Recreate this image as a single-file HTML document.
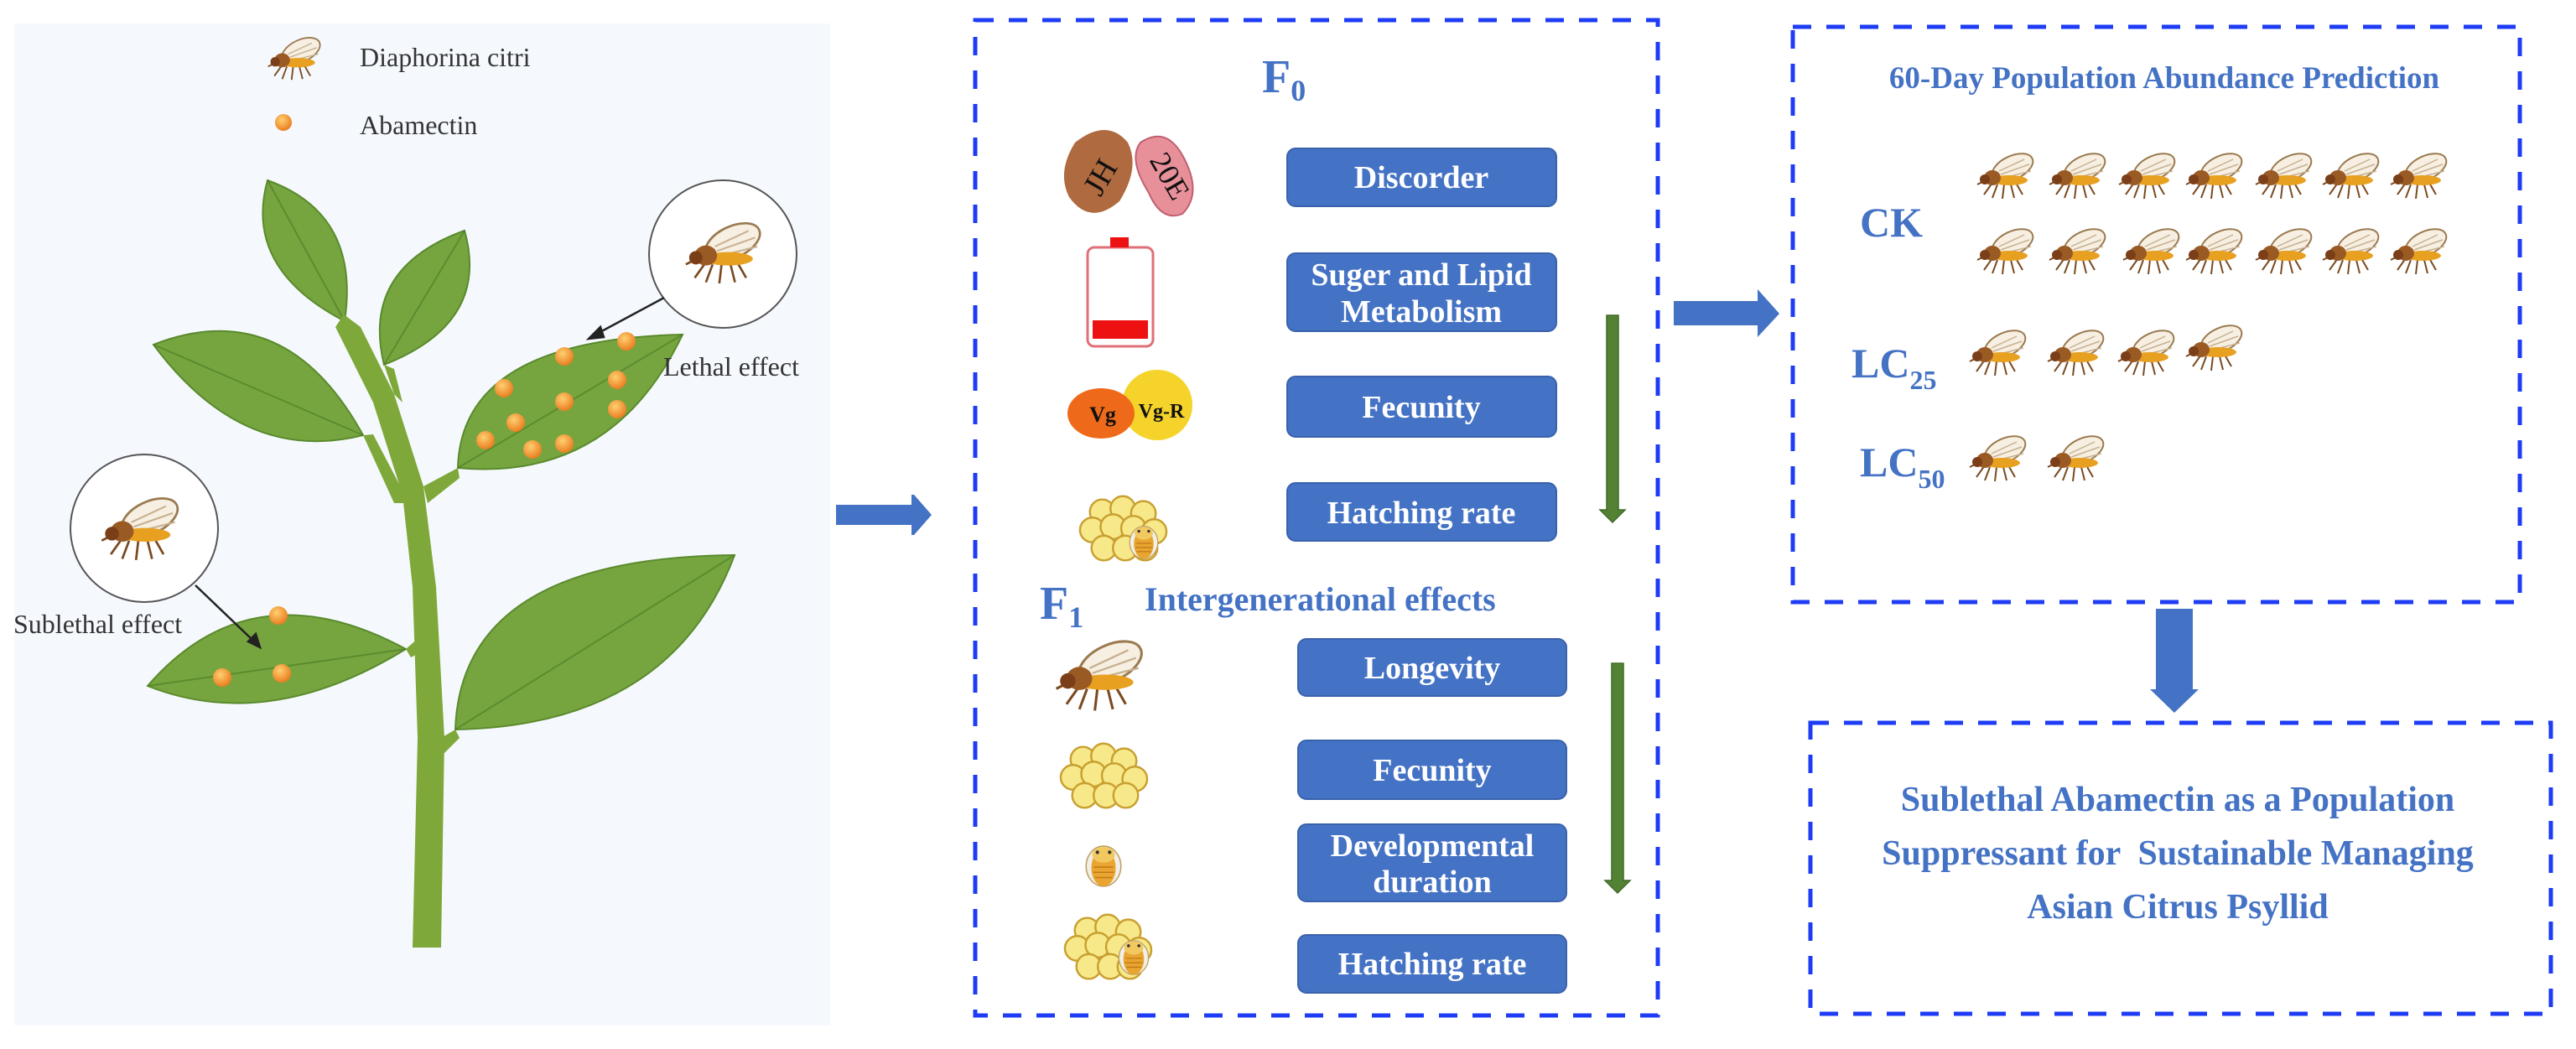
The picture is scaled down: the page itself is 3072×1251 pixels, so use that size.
<!DOCTYPE html>
<html><head><meta charset="utf-8">
<style>
html,body{margin:0;padding:0;background:#fff;}
svg{display:block;}
.bt{font-family:"Liberation Serif",serif;font-weight:bold;fill:#fff;font-size:38px;text-anchor:middle;}
.bl{font-family:"Liberation Serif",serif;font-weight:bold;fill:#4472c4;}
.lg{font-family:"Liberation Serif",serif;fill:#333;font-size:32px;}
</style></head>
<body>
<svg width="3072" height="1251" viewBox="0 0 3072 1251" xmlns="http://www.w3.org/2000/svg">
<defs>
  <symbol id="psy" viewBox="0 0 75 60">
    <g stroke="#7a4a20" stroke-width="2" fill="none">
      <path d="M22 38 L12 52 M28 40 L22 56 M36 40 L34 57 M44 40 L48 56 M50 38 L58 52 M16 34 L4 40"/>
    </g>
    <ellipse cx="46" cy="20" rx="26" ry="14" transform="rotate(-25 46 20)" fill="#f6efe2" stroke="#9a7a50" stroke-width="2"/>
    <path d="M30 24 L60 10 M32 28 L66 16 M36 32 L68 24" stroke="#c8b090" stroke-width="1.5"/>
    <ellipse cx="42" cy="35" rx="22" ry="6" fill="#e8a020"/>
    <ellipse cx="22" cy="32" rx="10" ry="9" fill="#9a5a24"/>
    <circle cx="13" cy="34" r="6" fill="#7a3e18"/>
  </symbol>
  <symbol id="eggs" viewBox="0 0 110 80">
    <g fill="#f7e98a" stroke="#c9a030" stroke-width="2.5">
      <circle cx="30" cy="18" r="15"/><circle cx="55" cy="14" r="15"/><circle cx="80" cy="20" r="15"/>
      <circle cx="18" cy="40" r="15"/><circle cx="43" cy="36" r="15"/><circle cx="68" cy="38" r="15"/><circle cx="93" cy="42" r="15"/>
      <circle cx="32" cy="62" r="15"/><circle cx="58" cy="62" r="15"/><circle cx="82" cy="62" r="15"/>
    </g>
  </symbol>
  <symbol id="nymph" viewBox="0 0 50 50">
    <ellipse cx="25" cy="25" rx="20" ry="23" fill="#f0f0e8" stroke="#c0a060" stroke-width="1.5"/>
    <ellipse cx="25" cy="27" rx="14" ry="21" fill="#e9a530"/>
    <ellipse cx="25" cy="12" rx="13" ry="9" fill="#f2c860"/>
    <circle cx="18" cy="9" r="2" fill="#333"/><circle cx="32" cy="9" r="2" fill="#333"/>
    <path d="M14 26 H36 M13 32 H37 M15 38 H35" stroke="#c07a18" stroke-width="1.5"/>
  </symbol>
  <radialGradient id="dot" cx="0.4" cy="0.35" r="0.7"><stop offset="0" stop-color="#ffd070"/><stop offset="1" stop-color="#e8781c"/></radialGradient>
</defs>

<rect x="17" y="28" width="973" height="1195" fill="#f5f9fd"/>
<use href="#psy" x="312" y="42" width="78" height="56"/>
<text class="lg" x="429" y="79">Diaphorina citri</text>
<circle cx="338" cy="146" r="10" fill="url(#dot)"/>
<text class="lg" x="429" y="160">Abamectin</text>

<g fill="#76a540" stroke="#5a8a2c" stroke-width="2">
  <path d="M411 383 Q290 320 319 215 Q430 255 411 383 Z"/>
  <path d="M458 435 Q430 320 554 275 Q585 385 458 435 Z"/>
  <path d="M433 519 Q290 555 183 411 Q340 350 433 519 Z"/>
  <path d="M546 558 Q550 405 814 399 Q730 575 546 558 Z"/>
  <path d="M484 774 Q320 875 176 818 Q300 675 484 774 Z"/>
  <path d="M543 870 Q550 665 876 662 Q800 865 543 870 Z"/>
</g>
<g stroke="#4a7a22" stroke-width="2" fill="none" opacity="0.6">
  <path d="M411 383 L319 215"/><path d="M458 435 L554 275"/><path d="M433 519 L183 411"/>
  <path d="M546 558 L814 399"/><path d="M484 774 L176 818"/><path d="M543 870 L876 662"/>
</g>
<path d="M492 1130 L526 1130 L530 880 L520 700 L505 580 L470 470 L430 390 L410 375 L400 390 L445 480 L480 590 L492 700 L498 880 Z" fill="#7fa83a"/>
<path d="M470 470 L458 435 L470 440 L480 480 Z M505 580 L546 558 L548 570 L510 600 Z M470 600 L433 519 L445 518 L488 600 Z M500 760 L484 774 L490 784 L505 776 Z M526 880 L543 870 L548 880 L528 900 Z" fill="#7fa83a"/>

<g fill="url(#dot)">
  <circle cx="747" cy="407" r="11"/><circle cx="673" cy="425" r="11"/><circle cx="736" cy="453" r="11"/>
  <circle cx="601" cy="463" r="11"/><circle cx="673" cy="479" r="11"/><circle cx="736" cy="488" r="11"/>
  <circle cx="615" cy="504" r="11"/><circle cx="579" cy="525" r="11"/><circle cx="635" cy="536" r="11"/>
  <circle cx="673" cy="529" r="11"/>
  <circle cx="332" cy="734" r="11"/><circle cx="265" cy="808" r="11"/><circle cx="336" cy="803" r="11"/>
</g>
<circle cx="862" cy="303" r="88" fill="#fff" stroke="#555" stroke-width="2"/>
<use href="#psy" x="810" y="262" width="105" height="80"/>
<circle cx="172" cy="630" r="88" fill="#fff" stroke="#555" stroke-width="2"/>
<use href="#psy" x="112" y="590" width="110" height="82"/>
<g stroke="#222" stroke-width="2.5" fill="#222">
  <line x1="792" y1="355" x2="712" y2="398"/><path d="M702 404 L716 390 L720 402 Z"/>
  <line x1="233" y1="698" x2="302" y2="764"/><path d="M310 772 L296 765 L305 756 Z"/>
</g>
<text class="lg" x="791" y="448">Lethal effect</text>
<text class="lg" x="16" y="755">Sublethal effect</text>

<path d="M997 602 H1087 V590 H1090 L1111 614 L1090 638 H1087 V626 H997 Z" fill="#4472c4"/>

<rect x="1163" y="24" width="814" height="1187" fill="none" stroke="#1e3cf5" stroke-width="5" stroke-dasharray="22 18"/>
<text class="bl" x="1505" y="110" font-size="56">F<tspan font-size="36" dy="10">0</tspan></text>

<path d="M1282 170 Q1320 140 1345 170 Q1360 200 1335 240 Q1300 270 1275 235 Q1260 205 1282 170 Z" fill="#b06a40"/>
<path d="M1360 170 Q1390 150 1410 185 Q1435 230 1410 255 Q1385 265 1370 230 Q1345 190 1360 170 Z" fill="#e8909a" stroke="#c06070" stroke-width="2"/>
<text x="1310" y="225" font-family="Liberation Serif,serif" font-size="38" fill="#111" transform="rotate(-60 1310 210)" text-anchor="middle">JH</text>
<text x="1395" y="222" font-family="Liberation Serif,serif" font-size="36" fill="#111" transform="rotate(60 1395 210)" text-anchor="middle">20E</text>

<rect x="1297" y="295" width="78" height="118" rx="8" fill="#fff" stroke="#e07078" stroke-width="3"/>
<rect x="1324" y="283" width="22" height="12" fill="#ee1111"/>
<rect x="1303" y="382" width="66" height="22" fill="#ee1111"/>

<ellipse cx="1380" cy="483" rx="42" ry="42" fill="#f5d32a"/>
<ellipse cx="1313" cy="493" rx="40" ry="30" fill="#ee6a1a"/>
<text x="1315" y="503" font-family="Liberation Serif,serif" font-weight="bold" font-size="26" fill="#111" text-anchor="middle">Vg</text>
<text x="1385" y="498" font-family="Liberation Serif,serif" font-weight="bold" font-size="24" fill="#111" text-anchor="middle">Vg-R</text>

<use href="#eggs" x="1285" y="590" width="108" height="84"/>
<use href="#nymph" x="1343" y="622" width="42" height="50"/>

<g fill="#4472c4" stroke="#3a62ac" stroke-width="2">
  <rect x="1535" y="177" width="321" height="69" rx="10"/>
  <rect x="1535" y="302" width="321" height="93" rx="10"/>
  <rect x="1535" y="449" width="321" height="72" rx="10"/>
  <rect x="1535" y="576" width="321" height="69" rx="10"/>
  <rect x="1548" y="762" width="320" height="68" rx="10"/>
  <rect x="1548" y="883" width="320" height="70" rx="10"/>
  <rect x="1548" y="983" width="320" height="92" rx="10"/>
  <rect x="1548" y="1115" width="320" height="69" rx="10"/>
</g>
<text class="bt" x="1695" y="224">Discorder</text>
<text class="bt" x="1695" y="340">Suger and Lipid</text>
<text class="bt" x="1695" y="384">Metabolism</text>
<text class="bt" x="1695" y="498">Fecunity</text>
<text class="bt" x="1695" y="624">Hatching rate</text>
<text class="bt" x="1708" y="809">Longevity</text>
<text class="bt" x="1708" y="931">Fecunity</text>
<text class="bt" x="1708" y="1021">Developmental</text>
<text class="bt" x="1708" y="1064">duration</text>
<text class="bt" x="1708" y="1162">Hatching rate</text>

<text class="bl" x="1240" y="738" font-size="56">F<tspan font-size="36" dy="10">1</tspan></text>
<text class="bl" x="1365" y="728" font-size="40">Intergenerational effects</text>

<use href="#psy" x="1248" y="760" width="126" height="92"/>
<use href="#eggs" x="1262" y="884" width="108" height="86"/>
<use href="#nymph" x="1290" y="1001" width="52" height="64"/>
<use href="#eggs" x="1267" y="1088" width="108" height="86"/>
<use href="#nymph" x="1330" y="1115" width="44" height="54"/>

<g fill="#548235" stroke="#3e6a28" stroke-width="1.5">
  <path d="M1916 376 H1930 V608 H1938 L1923 623 L1908 608 H1916 Z"/>
  <path d="M1922 791 H1936 V1050 H1944 L1929 1065 L1914 1050 H1922 Z"/>
</g>

<path d="M1996 359 H2096 V345 L2122 374 L2096 402 V388 H1996 Z" fill="#4472c4"/>

<rect x="2138" y="32" width="867" height="686" fill="none" stroke="#1e3cf5" stroke-width="5" stroke-dasharray="22 18"/>
<text class="bl" x="2581" y="105" font-size="37" text-anchor="middle">60-Day Population Abundance Prediction</text>
<text class="bl" x="2218" y="282" font-size="50">CK</text>
<text class="bl" x="2208" y="450" font-size="50">LC<tspan font-size="32" dy="14">25</tspan></text>
<text class="bl" x="2218" y="568" font-size="50">LC<tspan font-size="32" dy="14">50</tspan></text>
<g>
  <use href="#psy" x="2354" y="180" width="75" height="60"/><use href="#psy" x="2440" y="180" width="75" height="60"/>
  <use href="#psy" x="2523" y="180" width="75" height="60"/><use href="#psy" x="2603" y="180" width="75" height="60"/>
  <use href="#psy" x="2686" y="180" width="75" height="60"/><use href="#psy" x="2766" y="180" width="75" height="60"/>
  <use href="#psy" x="2847" y="180" width="75" height="60"/>
  <use href="#psy" x="2354" y="270" width="75" height="60"/><use href="#psy" x="2440" y="270" width="75" height="60"/>
  <use href="#psy" x="2528" y="270" width="75" height="60"/><use href="#psy" x="2603" y="270" width="75" height="60"/>
  <use href="#psy" x="2686" y="270" width="75" height="60"/><use href="#psy" x="2766" y="270" width="75" height="60"/>
  <use href="#psy" x="2847" y="270" width="75" height="60"/>
  <use href="#psy" x="2345" y="391" width="75" height="60"/><use href="#psy" x="2438" y="391" width="75" height="60"/>
  <use href="#psy" x="2522" y="391" width="75" height="60"/><use href="#psy" x="2603" y="385" width="75" height="60"/>
  <use href="#psy" x="2345" y="517" width="75" height="60"/><use href="#psy" x="2438" y="517" width="75" height="60"/>
</g>

<path d="M2571 726 H2615 V822 H2622 L2593 850 L2564 822 H2571 Z" fill="#4472c4"/>

<rect x="2159" y="862" width="883" height="347" fill="none" stroke="#1e3cf5" stroke-width="5" stroke-dasharray="22 18"/>
<text class="bl" font-size="42" text-anchor="middle" x="2597" y="967">Sublethal Abamectin as a Population</text>
<text class="bl" font-size="42" text-anchor="middle" x="2597" y="1031" xml:space="preserve">Suppressant for  Sustainable Managing</text>
<text class="bl" font-size="42" text-anchor="middle" x="2597" y="1095">Asian Citrus Psyllid</text>
</svg>
</body></html>
